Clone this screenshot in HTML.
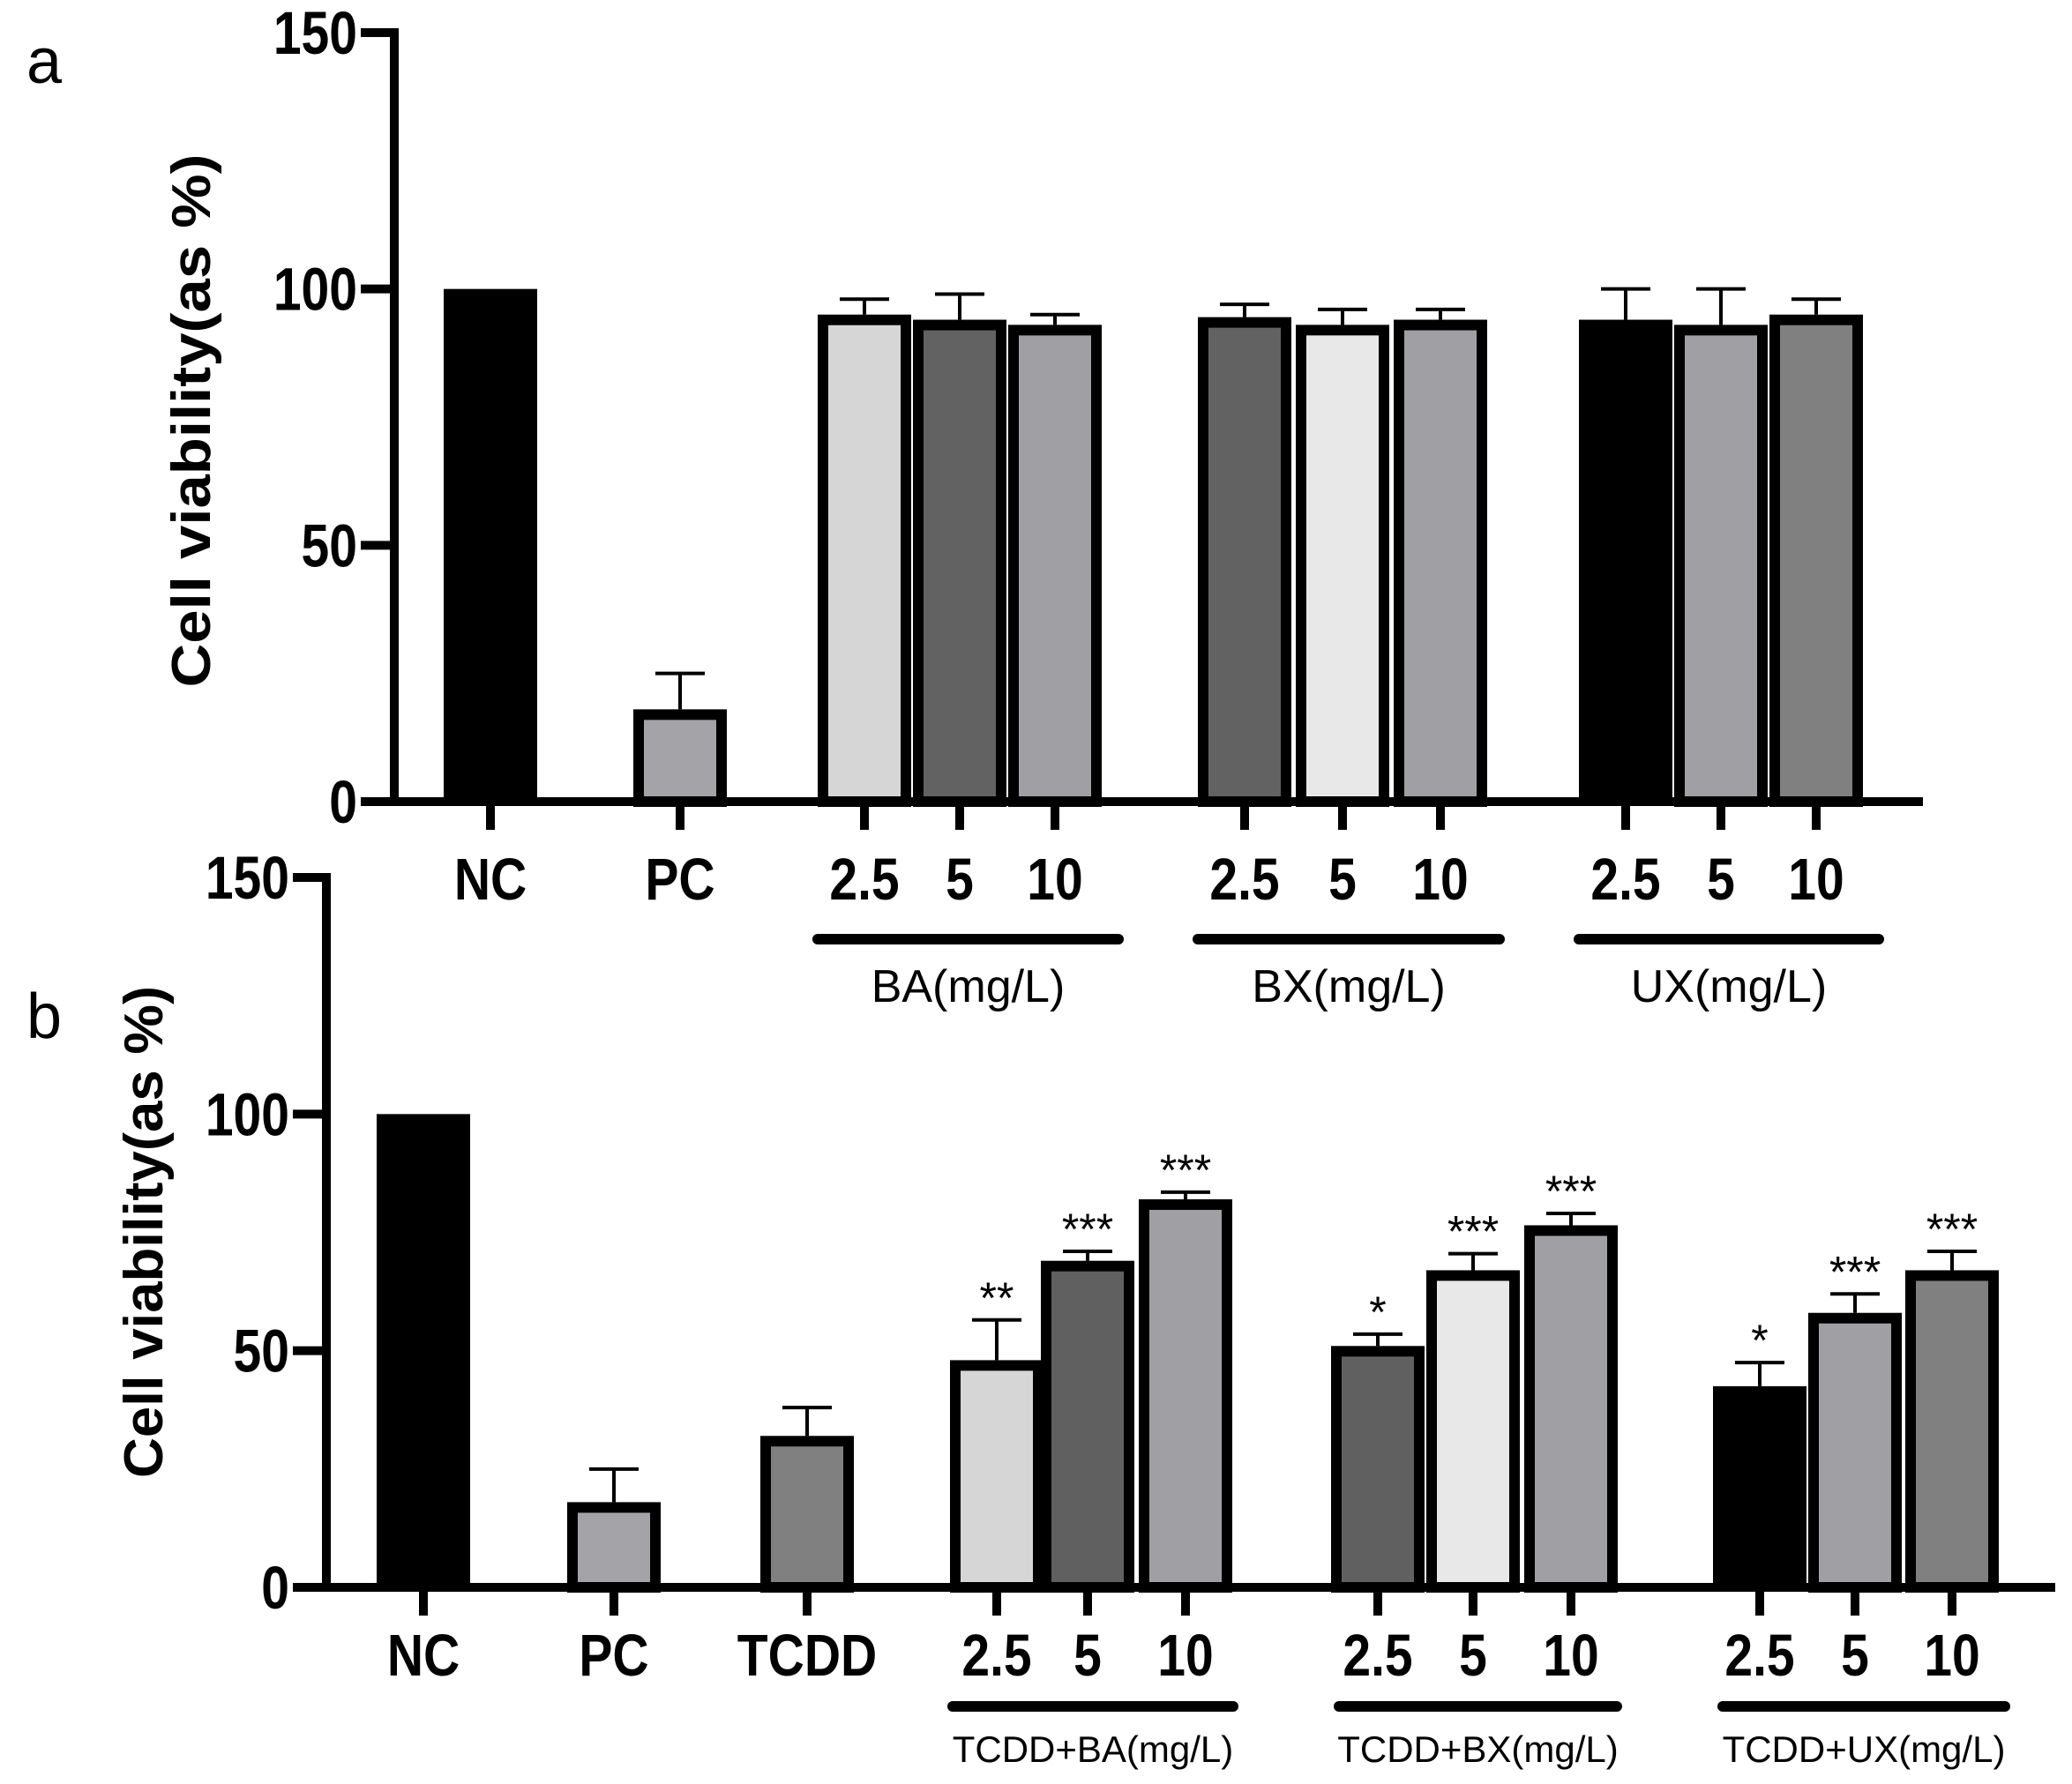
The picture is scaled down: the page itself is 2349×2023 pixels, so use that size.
<!DOCTYPE html>
<html><head><meta charset="utf-8"><style>
html,body{margin:0;padding:0;background:#fff}
svg{display:block}
text{font-family:"Liberation Sans",sans-serif}
</style></head><body>
<svg id="fig" width="2349" height="2023" viewBox="0 0 2349 2023" xmlns="http://www.w3.org/2000/svg"></svg>
<script>
// Panel a data
const aCats = ["NC","PC","2.5","5","10","2.5","5","10","2.5","5","10"];
const aVals = [100,18,95,94,93,94.5,93,94,94,93,95];
const aErr  = [0,7,3,5,2,2.5,3,2,6,7,3];
const aColors = ["#000","#a3a3a8","#d6d6d6","#626262","#a0a0a4","#626262","#e8e8e8","#a0a0a4","#000","#a0a0a4","#808080"];
const aGroups = ["BA(mg/L)","BX(mg/L)","UX(mg/L)"];
const aTicks = [0,50,100,150];
// Panel b data
const bCats = ["NC","PC","TCDD","2.5","5","10","2.5","5","10","2.5","5","10"];
const bVals = [100,18,32,48,69,82,51,67,76.5,42.5,58,67];
const bErr  = [0,7,6,8.5,2,1.5,2.5,3.5,2.5,5,4,4];
const bStars = ["","","","**","***","***","*","***","***","*","***","***"];
const bColors = ["#000","#a3a3a8","#808080","#d6d6d6","#606060","#a0a0a4","#606060","#e8e8e8","#a0a0a4","#000","#a0a0a4","#808080"];
const bGroups = ["TCDD+BA(mg/L)","TCDD+BX(mg/L)","TCDD+UX(mg/L)"];
const bTicks = [0,50,100,150];

const svg = document.getElementById('fig');
const NS = "http://www.w3.org/2000/svg";
function el(tag, attrs, txt){const e=document.createElementNS(NS,tag);for(const k in attrs)e.setAttribute(k,attrs[k]);if(txt!==undefined)e.textContent=txt;svg.appendChild(e);return e;}

function panel(cfg){
  const y = v => cfg.y0 - (v/150)*(cfg.y0-cfg.y150);
  cfg.vals.forEach((v,i)=>{
    const cx = cfg.xs[i], w=106, top=y(v);
    if(cfg.err[i]>0){
      const ey=y(v+cfg.err[i]);
      const eb=el('line',{x1:cx,x2:cx,y1:top,y2:ey,stroke:'#000','stroke-width':4});
      
      
      const cap=el('line',{x1:cx-28,x2:cx+28,y1:ey,y2:ey,stroke:'#000','stroke-width':4});
      
      
    }
    let r;
    if(cfg.colors[i]==="#000"){
      r=el('rect',{x:cx-w/2,y:top,width:w,height:cfg.y0-top,fill:'#000'});
    } else {
      r=el('rect',{x:cx-w/2+6,y:top+6,width:w-12,height:cfg.y0-top-6,fill:cfg.colors[i],stroke:'#000','stroke-width':12});
    }
    
    
    if(cfg.stars && cfg.stars[i]){
      const st=el('text',{x:cx,y:y(v+cfg.err[i])-8,'font-size':50,'text-anchor':'middle'},cfg.stars[i]);
      
      
    }
    const tk=el('line',{x1:cx,x2:cx,y1:cfg.y0,y2:cfg.y0+32,stroke:'#000','stroke-width':10});
    
    
    const lb=el('text',{transform:`translate(${cx},${cfg.labY}) scale(0.92,1.08)`,'font-size':62,'font-weight':'bold','text-anchor':'middle'},cfg.cats[i]);
    
    
  });
  const ya=el('line',{x1:cfg.ax,x2:cfg.ax,y1:cfg.y150-5,y2:cfg.y0+5,stroke:'#000','stroke-width':10});
  
  
  const xa=el('line',{x1:cfg.ax-5,x2:cfg.xEnd,y1:cfg.y0,y2:cfg.y0,stroke:'#000','stroke-width':10});
  
  
  cfg.ticks.forEach(t=>{
    const l=el('line',{x1:cfg.ax-38,x2:cfg.ax,y1:y(t),y2:y(t),stroke:'#000','stroke-width':10});
    
    
    const tx=el('text',{transform:`translate(${cfg.ax-42},${y(t)+24}) scale(0.92,1.1)`,'font-size':62,'font-weight':'bold','text-anchor':'end'},String(t));
    
    
  });
  cfg.groups.forEach((g,gi)=>{
    const [x1,x2]=cfg.gx[gi];
    const gl=el('line',{x1:x1,x2:x2,y1:cfg.gY,y2:cfg.gY,stroke:'#000','stroke-width':12,'stroke-linecap':'round'});
    
    
    const gt=el('text',{x:(x1+x2)/2,y:cfg.gLabY,'font-size':cfg.gFont,'text-anchor':'middle'},g);
    
    
  });
  const yl=el('text',{transform:`translate(${cfg.ylx},${cfg.yly}) rotate(-90)`,'font-size':62,'font-weight':'bold','text-anchor':'middle',textLength:cfg.ylLen,lengthAdjust:'spacingAndGlyphs'},'Cell viability(as %)');
  
  
  const pl=el('text',{x:cfg.plx,y:cfg.ply,'font-size':72},cfg.id);
  
  
}

panel({id:'a',cats:aCats,vals:aVals,err:aErr,colors:aColors,groups:aGroups,ticks:aTicks,
  xs:[556,771,980,1088,1196,1411,1522,1633,1843,1951,2059],
  y0:909,y150:37,ax:447,xEnd:2180,labY:1020,
  gx:[[927,1268],[1358,1700],[1790,2130]],gY:1065,gLabY:1136,gFont:52,
  ylx:238,yly:477,ylLen:605,plx:30,ply:94});
panel({id:'b',cats:bCats,vals:bVals,err:bErr,colors:bColors,stars:bStars,groups:bGroups,ticks:bTicks,
  xs:[480,696,915,1130,1233,1344,1562,1670,1781,1995,2103,2213],
  y0:1800,y150:995,ax:370,xEnd:2330,labY:1900,
  gx:[[1080,1398],[1518,1833],[1953,2273]],gY:1935,gLabY:1998,gFont:42,
  ylx:184,yly:1397,ylLen:558,plx:30,ply:1177});
</script>
</body></html>
